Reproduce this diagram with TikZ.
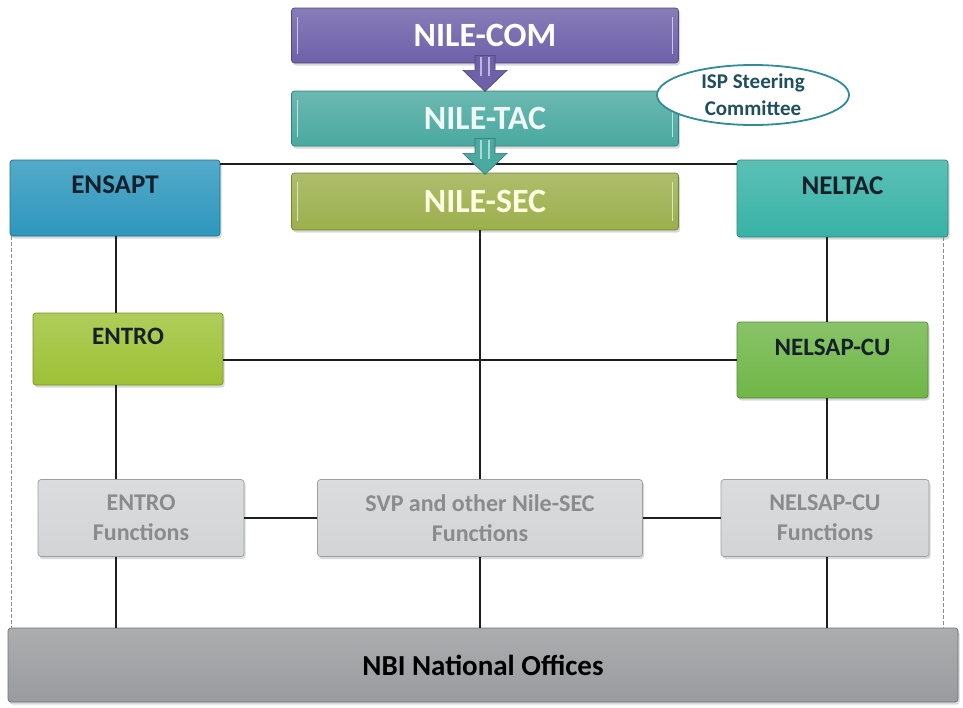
\documentclass[tikz,border=0pt]{standalone}
\usepackage{fontspec}
\setmainfont{Carlito}
\usetikzlibrary{shapes.geometric, shadows}

\definecolor{comfill}{HTML}{6E60A9}
\definecolor{tacfill}{HTML}{4AA9A0}
\definecolor{secfill}{HTML}{9CAF4C}
\definecolor{ensaptfill}{HTML}{2E97BD}
\definecolor{neltacfill}{HTML}{38B2A6}
\definecolor{entrofill}{HTML}{9EC136}
\definecolor{nelsapfill}{HTML}{6FB647}
\definecolor{funcfill}{HTML}{D3D4D6}
\definecolor{functext}{HTML}{8A8B8D}
\definecolor{nbifill}{HTML}{9A9B9E}
\definecolor{ispline}{HTML}{2F8C99}
\definecolor{isptext}{HTML}{1E4F5C}
\definecolor{darktext}{HTML}{15202A}

\tikzset{
  orgbox/.style={draw=#1!75!black, line width=0.7pt, rounded corners=3pt,
    top color=#1!82!white, bottom color=#1, inner sep=0pt,
    drop shadow={shadow xshift=1.5pt, shadow yshift=-2.5pt, opacity=.3}},
  gleam/.style={path picture={\draw[#1, line width=1.6pt]
    ([shift={(6pt,-9pt)}]path picture bounding box.north west) -- ([shift={(6pt,9pt)}]path picture bounding box.south west)
    ([shift={(-6pt,-9pt)}]path picture bounding box.north east) -- ([shift={(-6pt,9pt)}]path picture bounding box.south east);}},
  mainbox/.style={orgbox=#1, gleam=#1!35!white, minimum width=387pt, minimum height=55pt,
    font=\fontsize{34}{40}\selectfont\bfseries},
  sidebox/.style={orgbox=#1, text=darktext, text depth=26pt,
    font=\fontsize{27}{32}\selectfont\bfseries},
  unitbox/.style={orgbox=#1, text=darktext, text depth=25pt,
    font=\fontsize{25}{30}\selectfont\bfseries},
  funcbox/.style={orgbox=funcfill, text=functext, align=center, minimum height=77pt,
    font=\fontsize{24}{30}\selectfont\bfseries},
  link/.style={line width=2.3pt, black!88},
  sideline/.style={line width=0.8pt, black!45, dash pattern=on 4pt off 2pt},
  downarrow/.pic={
    \path[pic actions] (-10,0) -- (-10,15) -- (-22,15) -- (0,36) -- (22,15) -- (10,15) -- (10,0) -- cycle;
    \draw[white, opacity=.55, line width=1.2pt] (-4,2) -- (-4,21) (4,2) -- (4,21);
  }
}

\begin{document}
\begin{tikzpicture}[x=1pt,y=-1pt]
\useasboundingbox (0,0) rectangle (963,707);

% top chain
\node[mainbox=comfill, text=white] (com) at (485,35.5) {NILE-COM};
\node[mainbox=tacfill, text=white!92!tacfill] (tac) at (485,118.5) {NILE-TAC};
\node[mainbox=secfill, minimum height=57pt, text=yellow!12!white] (sec) at (485,201.5) {NILE-SEC};

% side bodies
\node[sidebox=ensaptfill, minimum width=210pt, minimum height=76pt] (ensapt) at (115,198) {ENSAPT};
\node[sidebox=neltacfill, minimum width=211pt, minimum height=77pt] (neltac) at (842.5,198.5) {NELTAC};
\node[unitbox=entrofill, minimum width=190pt, minimum height=72pt] (entro) at (128,349) {ENTRO};
\node[unitbox=nelsapfill, minimum width=191pt, minimum height=76pt] (nelsap) at (832.5,360) {NELSAP-CU};

% functions
\node[funcbox, minimum width=206pt] (efun) at (141,518) {ENTRO\\Functions};
\node[funcbox, minimum width=325pt] (svp) at (480,518) {SVP and other Nile-SEC\\Functions};
\node[funcbox, minimum width=208pt] (nfun) at (825,518) {NELSAP-CU\\Functions};

\node[orgbox=nbifill, minimum width=950pt, minimum height=74pt, text=black,
  font=\fontsize{29}{34}\selectfont\bfseries] (nbi) at (483,665) {NBI National Offices};

% connectors
\coordinate (lx) at (116,0);
\coordinate (mx) at (480,0);
\coordinate (rx) at (827,0);
\draw[link] ([yshift=-4pt]ensapt.north east) -- ([yshift=-4pt]neltac.north west);
\draw[link] (lx |- ensapt.south) -- (lx |- entro.north);
\draw[link] (lx |- entro.south) -- (lx |- efun.north);
\draw[link] (lx |- efun.south) -- (lx |- nbi.north);
\draw[link] (rx |- neltac.south) -- (rx |- nelsap.north);
\draw[link] (rx |- nelsap.south) -- (rx |- nfun.north);
\draw[link] (rx |- nfun.south) -- (rx |- nbi.north);
\draw[link] (mx |- sec.south) -- (mx |- svp.north);
\draw[link] (mx |- svp.south) -- (mx |- nbi.north);
\draw[link] (entro.east |- nelsap.west) -- (nelsap.west);
\draw[link] (efun.east) -- (svp.west);
\draw[link] (svp.east) -- (nfun.west);
\draw[sideline] ([xshift=2pt]ensapt.south west) -- ([xshift=2pt]ensapt.south west |- nbi.north);
\draw[sideline] ([xshift=-5pt]neltac.south east) -- ([xshift=-5pt]neltac.south east |- nbi.north);

% arrows down the chain
\pic[fill=comfill, draw=comfill!70!black, line width=0.6pt] at ([yshift=8pt]com.south) {downarrow};
\pic[fill=tacfill, draw=tacfill!70!black, line width=0.6pt] at ([yshift=8pt]tac.south) {downarrow};

\node[ellipse, draw=ispline, line width=1.8pt, fill=white, minimum width=192pt, minimum height=60pt,
  inner sep=0pt, align=center, text=isptext, font=\fontsize{21}{27}\selectfont\bfseries] (isp) at (753,95)
  {ISP Steering\\Committee};
\end{tikzpicture}
\end{document}
